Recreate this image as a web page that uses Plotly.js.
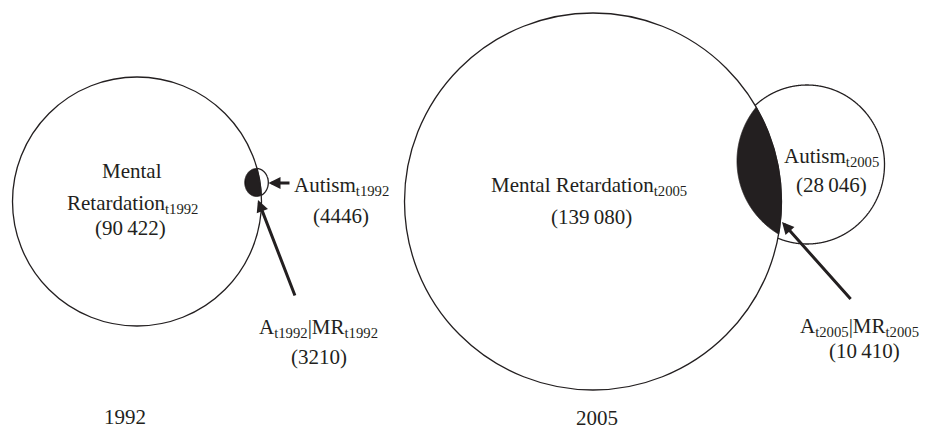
<!DOCTYPE html>
<html>
<head>
<meta charset="utf-8">
<script src="https://cdn.plot.ly/plotly-3.0.1.min.js"></script>
<style>html,body{margin:0;padding:0;background:#fff;}#chart{width:929px;height:429px;}</style>
</head>
<body>
<div id="chart"></div>
<script>
// ---- data ----
const years = ['1992', '2005'];
const mrCounts = [90422, 139080];
const autismCounts = [4446, 28046];
const overlapCounts = [3210, 10410];

// ---- layout geometry (pixel frame 929 x 429) ----
const geom = [
  {
    mr: {cx: 137, cy: 201.5, rx: 124.5, ry: 124.5},
    au: {cx: 256.5, cy: 182.5, rx: 11.8, ry: 14},
    shade: {cx: 256.5, cy: 182.5, rx: 11.8, ry: 14},
    arrows: [{x: 268.5, y: 183, ax: 291, ay: 183}, {x: 258, y: 200, ax: 295.5, ay: 297}],
    txt: {
      mrLines: [{x: 132, y: 170.5, a: 'center'}, {x: 132, y: 204, a: 'center'}],
      mrCount: {x: 130, y: 227.5, a: 'center'},
      au: {x: 291.5, y: 186, a: 'left'}, auCount: {x: 341, y: 216, a: 'center'},
      ov: {x: 318, y: 328, a: 'center'}, ovCount: {x: 318.5, y: 357, a: 'center'},
      year: {x: 124.5, y: 416.5}
    },
    split: true
  },
  {
    mr: {cx: 593, cy: 201.5, rx: 188.5, ry: 188.5},
    au: {cx: 807, cy: 164.5, rx: 77.5, ry: 79.5},
    shade: {cx: 822, cy: 161, rx: 85, ry: 85},
    arrows: [{x: 782, y: 222, ax: 852, ay: 300.5}],
    txt: {
      mrLines: [{x: 489, y: 186, a: 'left'}],
      mrCount: {x: 591, y: 217, a: 'center'},
      au: {x: 781.5, y: 157, a: 'left'}, auCount: {x: 831, y: 185, a: 'center'},
      ov: {x: 798, y: 327, a: 'left'}, ovCount: {x: 864, y: 351, a: 'center'},
      year: {x: 596.5, y: 418}
    },
    split: false
  }
];

const INK = '#231f20';
const FONT = {family: '"Liberation Serif", "Times New Roman", serif', size: 21, color: INK};

function fmt(n) {
  const s = String(n);
  return n >= 10000 ? s.slice(0, -3) + '\u2009' + s.slice(-3) : s;
}
function sub(t) { return '<sub>' + t + '</sub>'; }

function inside(e, x, y) {
  const dx = (x - e.cx) / e.rx, dy = (y - e.cy) / e.ry;
  return dx * dx + dy * dy <= 1;
}
// points of ellipse c1 that are inside (want=true) or outside (want=false) of c2, as one contiguous run
function arcRun(c1, c2, want) {
  let phi = Math.atan2(c2.cy - c1.cy, c2.cx - c1.cx);
  if (!want) phi += Math.PI;
  const pts = [];
  const N = 1440;
  for (let i = 0; i <= N; i++) {
    const t = phi - Math.PI + 2 * Math.PI * i / N;
    const x = c1.cx + c1.rx * Math.cos(t), y = c1.cy + c1.ry * Math.sin(t);
    if (inside(c2, x, y) === want) pts.push([x, y]);
  }
  return pts;
}
function toPath(pts, close) {
  return 'M' + pts.map(p => p[0].toFixed(2) + ',' + p[1].toFixed(2)).join('L') + (close ? 'Z' : '');
}
function ellipseShape(e) {
  return {type: 'circle', xref: 'x', yref: 'y', x0: e.cx - e.rx, x1: e.cx + e.rx,
          y0: e.cy - e.ry, y1: e.cy + e.ry, line: {color: INK, width: 1.3}, fillcolor: 'rgba(0,0,0,0)'};
}

const shapes = [];
const annotations = [];

function label(text, p, anchor) {
  annotations.push({
    text: text, x: p.x, y: p.y, xref: 'x', yref: 'y', showarrow: false,
    xanchor: anchor || p.a || 'center', yanchor: 'middle', font: FONT, align: 'center'
  });
}

years.forEach((yr, i) => {
  const g = geom[i];
  // shaded overlap
  const lens = arcRun(g.mr, g.shade, true).concat(arcRun(g.shade, g.mr, true));
  shapes.push({type: 'path', xref: 'x', yref: 'y', path: toPath(lens, true),
               fillcolor: INK, line: {color: INK, width: 0.8}});
  // outlines
  shapes.push(ellipseShape(g.mr));
  shapes.push({type: 'path', xref: 'x', yref: 'y', path: toPath(arcRun(g.au, g.mr, false), false),
               fillcolor: 'rgba(0,0,0,0)', line: {color: INK, width: 1.3}});

  g.arrows.forEach(a => {
    annotations.push({x: a.x, y: a.y, ax: a.ax, ay: a.ay, xref: 'x', yref: 'y', axref: 'x', ayref: 'y',
      text: '', showarrow: true, arrowhead: 2, arrowsize: 0.8, arrowwidth: 3, arrowcolor: INK, standoff: 0});
  });

  const t = g.txt;
  if (g.split) {
    label('Mental', t.mrLines[0]);
    label('Retardation' + sub('t' + yr), t.mrLines[1]);
  } else {
    label('Mental Retardation' + sub('t' + yr), t.mrLines[0]);
  }
  label('(' + fmt(mrCounts[i]) + ')', t.mrCount);
  label('Autism' + sub('t' + yr), t.au);
  label('(' + fmt(autismCounts[i]) + ')', t.auCount);
  label('A' + sub('t' + yr) + '|MR' + sub('t' + yr), t.ov);
  label('(' + fmt(overlapCounts[i]) + ')', t.ovCount);
  label(yr, {x: t.year.x, y: t.year.y, a: 'center'});
});

const layout = {
  width: 929, height: 429, autosize: false,
  margin: {l: 0, r: 0, t: 0, b: 0, pad: 0},
  paper_bgcolor: '#ffffff', plot_bgcolor: '#ffffff',
  showlegend: false,
  xaxis: {range: [0, 929], visible: false, fixedrange: true},
  yaxis: {range: [429, 0], visible: false, fixedrange: true},
  shapes: shapes,
  annotations: annotations
};

Plotly.newPlot('chart', [{x: [], y: [], type: 'scatter', mode: 'markers', hoverinfo: 'skip'}], layout,
  {displayModeBar: false, staticPlot: true});
</script>
</body>
</html>
